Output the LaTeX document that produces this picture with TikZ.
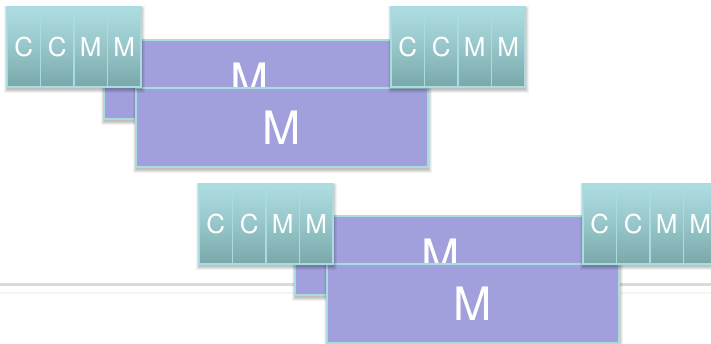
\documentclass[tikz,border=0pt]{standalone}
\usepackage{fontspec}
\setmainfont{TeX Gyre Heros}

\definecolor{tiletop}{RGB}{174,222,225}
\definecolor{tilemid}{RGB}{150,198,201}
\definecolor{tilebot}{RGB}{122,168,170}
\definecolor{edgecyan}{RGB}{168,220,224}
\definecolor{boxfill}{RGB}{162,160,220}
\definecolor{rulegray}{RGB}{222,218,212}
\definecolor{rulefaint}{RGB}{246,245,238}

\tikzset{
  tile/.style={draw=edgecyan, line width=1.9pt,
      top color=tiletop, bottom color=tilebot, middle color=tilemid,
      minimum width=33.5pt, minimum height=80pt, inner sep=0pt,
      text=white, font=\fontsize{26}{26}\selectfont, anchor=north west},
  mbox/.style={draw=edgecyan, line width=1.8pt, fill=boxfill,
      minimum width=292pt, minimum height=79pt, inner sep=0pt,
      text=white, font=\fontsize{46}{46}\selectfont, anchor=north west},
}

% soft drop shadow: nested translucent rectangles; #1 x, #2 y, #3 width, #4 height
\newcommand\softshadow[4]{%
  \foreach \g/\o in {3.5/0.05, 2.5/0.06, 1.5/0.07, 0.5/0.08}
    \fill[black, opacity=\o]
      ({#1+1.5-\g}, {#2+3.5-\g}) rectangle ({#1+#3+1.5+\g}, {#2+#4+3.5+\g});%
}

% a strip of four letter tiles: #1 name prefix, #2 x, #3 y
\newcommand\tilestrip[3]{%
  \softshadow{#2}{#3}{134}{80}%
  \foreach \l [count=\i] in {C,C,M,M}
    \node[tile] (#1\i) at ({#2+(\i-1)*33.5}, #3) {\l};%
}

% a large box: #1 name, #2 x, #3 y
\newcommand\bigbox[3]{%
  \softshadow{#2}{#3}{292}{79}%
  \node[mbox] (#1) at (#2,#3) {M};%
}

\begin{document}
\begin{tikzpicture}[x=1pt, y=-1pt]
  \useasboundingbox (0,0) rectangle (711,343);
  \clip (0,0) rectangle (711,343);
  \fill[white] (0,0) rectangle (711,343);

  % horizontal rule running behind the lower group
  \coordinate (ruleL) at (0,284.5);
  \coordinate (ruleR) at (711,284.5);
  \coordinate (faintL) at (0,293);
  \coordinate (faintR) at (711,293);
  \draw[rulefaint, line width=2pt] (faintL) -- (faintR);
  \draw[rulegray, line width=3pt] (ruleL) -- (ruleR);

  % upper group
  \bigbox{topback}{103}{39}
  \bigbox{topfront}{135}{87}
  \tilestrip{ta}{6}{6}
  \tilestrip{tb}{390}{6}

  % lower group
  \bigbox{botback}{294}{215}
  \bigbox{botfront}{326}{263}
  \tilestrip{ba}{198}{183}
  \tilestrip{bb}{582}{183}
\end{tikzpicture}
\end{document}
